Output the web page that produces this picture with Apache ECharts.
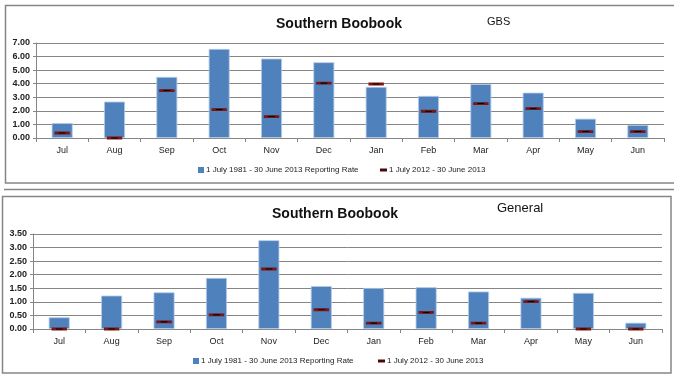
<!DOCTYPE html>
<html>
<head>
<meta charset="utf-8">
<script src="https://cdn.jsdelivr.net/npm/echarts@6/dist/echarts.min.js"></script>
<style>
  html, body { margin: 0; padding: 0; background: #fff; }
  #chart { width: 674px; height: 375px; }
</style>
</head>
<body>
<div id="chart"></div>
<script>
const months = ['Jul', 'Aug', 'Sep', 'Oct', 'Nov', 'Dec', 'Jan', 'Feb', 'Mar', 'Apr', 'May', 'Jun'];

// GBS panel
const gbsLongTerm = [1.10, 2.68, 4.50, 6.56, 5.85, 5.58, 3.76, 3.10, 3.98, 3.34, 1.42, 0.96];
const gbsRecent = [0.37, 0.00, 3.49, 2.09, 1.57, 4.05, 3.98, 1.97, 2.53, 2.16, 0.47, 0.47];

// General panel
const genLongTerm = [0.43, 1.23, 1.35, 1.88, 3.27, 1.58, 1.51, 1.54, 1.38, 1.15, 1.33, 0.23];
const genRecent = [0.00, 0.00, 0.26, 0.52, 2.21, 0.71, 0.22, 0.61, 0.22, 1.01, 0.00, 0.00];

const longName = '1 July 1981 - 30 June 2013 Reporting Rate';
const recentName = '1 July 2012 - 30 June 2013';

const font = '"Liberation Sans", Arial, sans-serif';
const gridColor = '#868686';
const barColor = '#4F81BD';
const dashPath = 'path://M0,0h10v3h-10z';

function xAxisFor(gridIndex) {
    return {
        type: 'category',
        gridIndex: gridIndex,
        data: months,
        axisLine: { lineStyle: { color: gridColor } },
        axisTick: { show: true, length: 4, lineStyle: { color: gridColor } },
        axisLabel: { fontFamily: font, fontSize: 9, color: '#222', margin: 8 }
    };
}

function yAxisFor(gridIndex, max, interval) {
    return {
        type: 'value',
        gridIndex: gridIndex,
        min: 0,
        max: max,
        interval: interval,
        axisLine: { show: true, lineStyle: { color: gridColor } },
        axisTick: { show: true, length: 3, lineStyle: { color: gridColor } },
        splitLine: { lineStyle: { color: gridColor } },
        axisLabel: {
            fontFamily: font, fontSize: 9, fontWeight: 'bold', color: '#222', margin: 6,
            formatter: v => v.toFixed(2)
        }
    };
}

function barSeries(idx, data) {
    return {
        name: longName,
        type: 'bar',
        xAxisIndex: idx,
        yAxisIndex: idx,
        data: data,
        barWidth: '40%',
        itemStyle: { color: barColor, borderColor: '#B4CAE6', borderWidth: 0.8 },
        silent: true
    };
}

function dashSeries(idx, data) {
    return {
        name: recentName,
        type: 'scatter',
        xAxisIndex: idx,
        yAxisIndex: idx,
        data: data,
        symbol: 'rect',
        symbolSize: [11, 2],
        itemStyle: { color: '#0a0000', borderColor: '#7d1515', borderWidth: 0.8, opacity: 1 },
        z: 5,
        silent: true
    };
}

function legendFor(left, top, name, icon, w, h, color) {
    return {
        left: left,
        top: top,
        padding: 0,
        data: [{ name: name, icon: icon, itemStyle: { color: color, borderWidth: 0 } }],
        itemWidth: w,
        itemHeight: h,
        itemGap: 0,
        symbolKeepAspect: false,
        selectedMode: false,
        textStyle: { fontFamily: font, fontSize: 8, color: '#222', padding: [0, 0, 0, -3] }
    };
}

const titleBold = { fontFamily: font, fontSize: 14, fontWeight: 'bold', color: '#111' };

const myChart = echarts.init(document.getElementById('chart'));

const option = {
    animation: false,
    backgroundColor: '#fff',
    title: [
        { text: 'Southern Boobook', left: 276, top: 17, padding: 0, textStyle: titleBold },
        { text: 'GBS', left: 487, top: 16, padding: 0, textStyle: { fontFamily: font, fontSize: 11, fontWeight: 'normal', color: '#111' } },
        { text: 'Southern Boobook', left: 272, top: 207, padding: 0, textStyle: titleBold },
        { text: 'General', left: 497, top: 202, padding: 0, textStyle: { fontFamily: font, fontSize: 13, fontWeight: 'normal', color: '#111' } }
    ],
    legend: [
        legendFor(198, 166, longName, 'rect', 6, 6, barColor),
        legendFor(380, 166, recentName, dashPath, 7, 3, '#4a0808'),
        legendFor(193, 357, longName, 'rect', 6, 6, barColor),
        legendFor(378, 357, recentName, dashPath, 7, 3, '#4a0808')
    ],
    grid: [
        { left: 36, right: 10, top: 43, height: 95 },
        { left: 33, right: 12, top: 234, height: 95 }
    ],
    xAxis: [xAxisFor(0), xAxisFor(1)],
    yAxis: [yAxisFor(0, 7, 1), yAxisFor(1, 3.5, 0.5)],
    series: [
        barSeries(0, gbsLongTerm),
        dashSeries(0, gbsRecent),
        barSeries(1, genLongTerm),
        dashSeries(1, genRecent)
    ],
    graphic: [
        { type: 'rect', shape: { x: 5.5, y: 5.5, width: 680, height: 177.5 }, style: { fill: 'none', stroke: gridColor, lineWidth: 1.5 }, silent: true },
        { type: 'line', shape: { x1: 4, y1: 189.5, x2: 674, y2: 189.5 }, style: { stroke: gridColor, lineWidth: 1.5 }, silent: true },
        { type: 'rect', shape: { x: 2.5, y: 196.5, width: 668.5, height: 176.5 }, style: { fill: 'none', stroke: gridColor, lineWidth: 1.5 }, silent: true }
    ]
};

myChart.setOption(option);

window.addEventListener('resize', () => {
    myChart.resize();
});
</script>
</body>
</html>
